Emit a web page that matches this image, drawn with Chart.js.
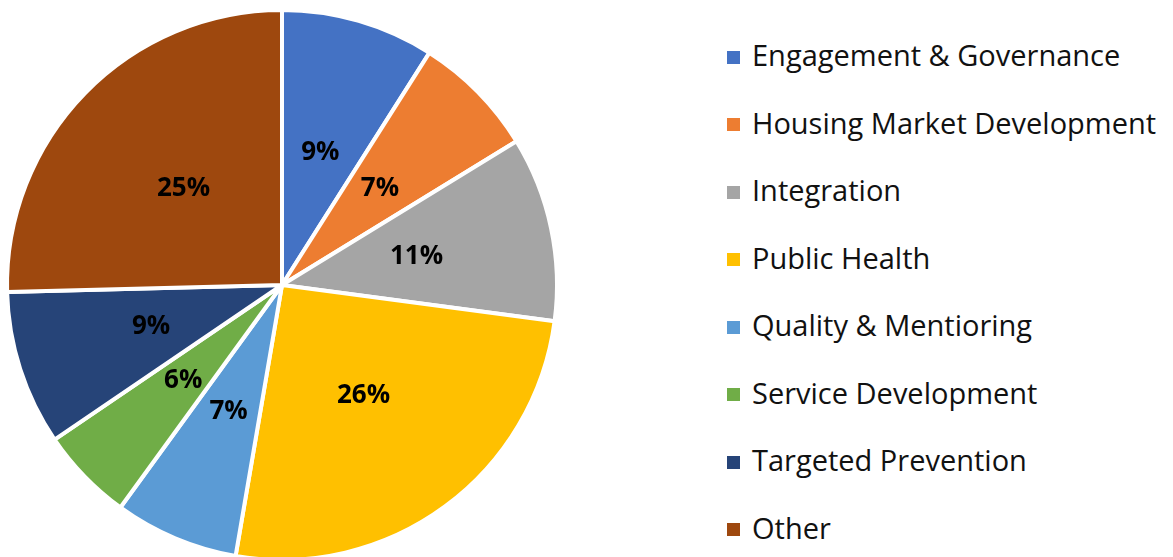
<!DOCTYPE html>
<html>
<head>
<meta charset="utf-8">
<script src="https://cdn.jsdelivr.net/npm/chart.js@4"></script>
<style>
  html, body { margin: 0; padding: 0; background: #fff; overflow: hidden; }
  body { width: 1173px; height: 557px; position: relative; }
  #wrap { position: absolute; left: 0; top: 0; width: 564px; height: 562px; }
  .sq { position: absolute; width: 13px; height: 13px; }
  .lt { position: absolute; font-family: "Open Sans", sans-serif; font-size: 29px; line-height: 29px; color: #111; white-space: nowrap; }
</style>
</head>
<body>
<div id="wrap"><canvas id="c"></canvas></div>
<div id="legend"></div>
<script>
const categories = ["Engagement & Governance", "Housing Market Development", "Integration", "Public Health", "Quality & Mentioring", "Service Development", "Targeted Prevention", "Other"];
// slice sizes (percent)
const shares = [9.0, 7.25, 10.85, 25.6, 7.3, 5.5, 9.1, 25.4];
// percentage labels printed on the slices
const shareLabels = ["9%", "7%", "11%", "26%", "7%", "6%", "9%", "25%"];
const sliceColors = ["#4472C4", "#ED7D31", "#A5A5A5", "#FFC000", "#5B9BD5", "#70AD47", "#264478", "#9E480E"];

// HTML legend
const legend = document.getElementById('legend');
categories.forEach((name, i) => {
  const cy = 57 + 67.5 * i;
  const sq = document.createElement('div');
  sq.className = 'sq';
  sq.style.left = '727px';
  sq.style.top = (cy - 6.5) + 'px';
  sq.style.background = sliceColors[i];
  legend.appendChild(sq);
  const t = document.createElement('div');
  t.className = 'lt';
  t.style.left = '752px';
  t.style.top = (cy + 9 - 25.75) + 'px';
  t.textContent = name;
  legend.appendChild(t);
});

const pctLabels = {
  id: 'pctLabels',
  afterDatasetsDraw(chart) {
    const ctx = chart.ctx;
    const meta = chart.getDatasetMeta(0);
    ctx.save();
    ctx.font = 'bold 26px "Open Sans", sans-serif';
    ctx.fillStyle = '#000';
    ctx.textAlign = 'center';
    ctx.textBaseline = 'middle';
    meta.data.forEach((arc, i) => {
      const p = arc.tooltipPosition();
      ctx.fillText(shareLabels[i], p.x, p.y);
    });
    ctx.restore();
  }
};

new Chart(document.getElementById('c'), {
  type: 'pie',
  data: {
    labels: categories,
    datasets: [{
      data: shares,
      backgroundColor: sliceColors,
      borderColor: '#ffffff',
      borderWidth: 4,
      hoverOffset: 0,
      offset: 0
    }]
  },
  options: {
    responsive: true,
    maintainAspectRatio: false,
    animation: false,
    layout: { padding: { left: 5, right: 5, top: 8, bottom: 0 } },
    plugins: {
      legend: { display: false },
      tooltip: { enabled: false }
    }
  },
  plugins: [pctLabels]
});
</script>
</body>
</html>
